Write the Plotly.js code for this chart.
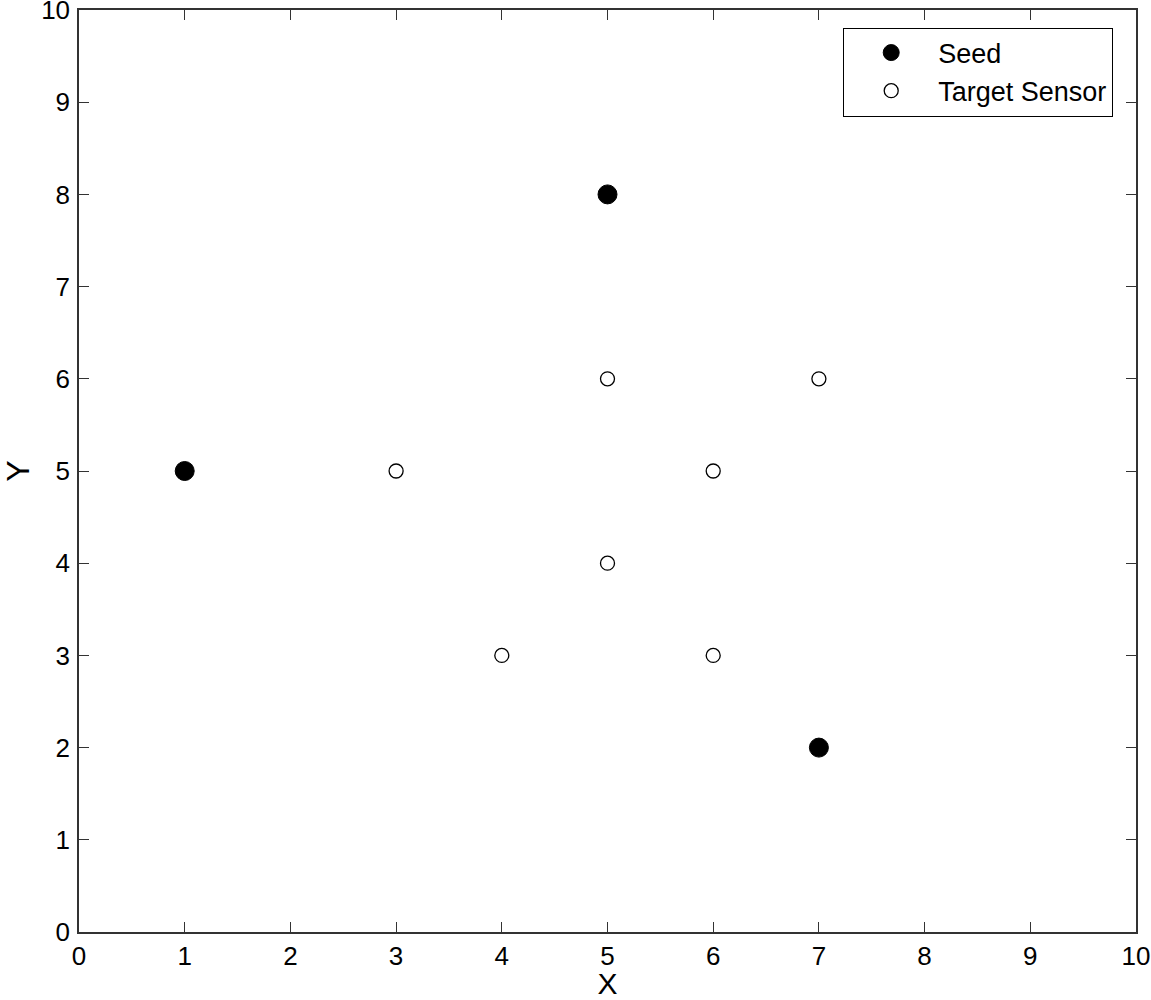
<!DOCTYPE html>
<html><head><meta charset="utf-8">
<script src="https://cdn.plot.ly/plotly-3.0.1.min.js"></script>
<style>body{margin:0;padding:0;background:#fff}#chart{width:1151px;height:1000px}</style>
</head><body><div id="chart"></div>
<script>
const seedX = [1, 5, 7];
const seedY = [5, 8, 2];
const targetX = [3, 5, 5, 4, 6, 6, 7];
const targetY = [5, 6, 4, 3, 5, 3, 6];
const tickVals = [0,1,2,3,4,5,6,7,8,9,10];

const traces = [
  {x: seedX, y: seedY, mode: 'markers', type: 'scatter', name: 'Seed',
   marker: {color: '#000', size: 19, line: {color: '#000', width: 1}}},
  {x: targetX, y: targetY, mode: 'markers', type: 'scatter', name: 'Target Sensor',
   marker: {color: '#fff', size: 14, line: {color: '#000', width: 1.3}}}
];
const axisCommon = {
  range: [0, 10], tickvals: tickVals, ticks: 'inside', ticklen: 10, tickwidth: 1,
  tickcolor: '#333', showline: true, linecolor: '#333', linewidth: 1.5, mirror: 'ticks',
  showgrid: false, zeroline: false, ticklabeloverflow: 'allow',
  tickfont: {family: 'Liberation Sans, Arial', size: 26, color: '#000'}
};
const layout = {
  width: 1151, height: 1000,
  margin: {l: 79, r: 15, t: 10, b: 68},
  paper_bgcolor: '#fff', plot_bgcolor: '#fff',
  font: {family: 'Liberation Sans, Arial', color: '#000'},
  xaxis: Object.assign({}, axisCommon, {ticklabelstandoff: 0,
     title: {text: 'X', font: {size: 30}, standoff: 12}}),
  yaxis: Object.assign({}, axisCommon, {ticklabelstandoff: 2,
     title: {text: 'Y', font: {size: 32}, standoff: 24}}),
  showlegend: true,
  legend: {x: 0.723, y: 0.981, xanchor: 'left', yanchor: 'top', bgcolor: '#fff',
    bordercolor: '#000', borderwidth: 1, font: {size: 27, family: 'Liberation Sans, Arial'},
    tracegroupgap: 0, itemsizing: 'trace', itemwidth: 84}
};
Plotly.newPlot('chart', traces, layout, {displayModeBar: false});
</script></body></html>
